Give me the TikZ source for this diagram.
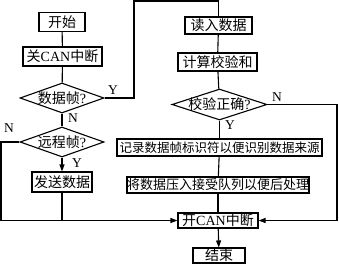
\documentclass[tikz,border=0pt]{standalone}
\usepackage{fontspec}
\setmainfont{Liberation Serif}
\newfontfamily\cjk{Noto Sans CJK SC}
\usetikzlibrary{shapes.geometric,arrows.meta}
\begin{document}
\begin{tikzpicture}[x=1pt,y=-1pt,
  line width=1.1pt,
  box/.style={draw,rectangle,inner sep=0pt,font=\fontsize{14}{14}\selectfont},
  dia/.style={draw,diamond,inner sep=0pt},
  lbl/.style={font=\fontsize{13.5}{13.5}\selectfont,inner sep=0pt},
  dtxt/.style={font=\fontsize{14}{14}\selectfont,inner sep=0pt},
  arr/.style={-{Triangle[length=7pt,width=5pt]}}]
\useasboundingbox (0,0) rectangle (339,270);
% left column
\node[box,minimum width=46pt,minimum height=19pt] (start) at (62,22) {\cjk 开始};
\node[box,minimum width=79pt,minimum height=19pt] (closeint) at (62.5,56.5) {{\cjk 关}CAN{\cjk 中断}};
\node[dia,minimum width=84pt,minimum height=30pt] (d1) at (62,98) {};
\node[dtxt] at (d1) {{\cjk 数据帧}?};
\node[dia,minimum width=84pt,minimum height=30pt] (d2) at (62,142) {};
\node[dtxt] at (d2) {{\cjk 远程帧}?};
\node[box,minimum width=60pt,minimum height=20pt] (send) at (62,182) {\cjk 发送数据};
% right column
\node[box,minimum width=67pt,minimum height=17pt] (read) at (218.5,25.5) {\cjk 读入数据};
\node[box,minimum width=79pt,minimum height=18pt] (calc) at (217.5,62) {\cjk 计算校验和};
\node[dia,minimum width=95pt,minimum height=31pt] (d3) at (219.5,104.5) {};
\node[dtxt] at (d3) {{\cjk 校验正确}?};
\node[box,minimum width=205pt,minimum height=17pt,font=\fontsize{12.5}{12.5}\selectfont] (rec) at (219.5,147.5) {\cjk 记录数据帧标识符以便识别数据来源};
\node[box,minimum width=180pt,minimum height=16pt,font=\fontsize{13}{13}\selectfont] (push) at (218,185) {\cjk 将数据压入接受队列以便后处理};
\node[box,minimum width=80pt,minimum height=15pt] (openint) at (218,220.5) {{\cjk 开}CAN{\cjk 中断}};
\node[box,minimum width=52pt,minimum height=15pt] (end) at (219,255.5) {\cjk 结束};
% coordinates
\coordinate (t1) at (134,98);
\coordinate (t2) at (134,1);
\coordinate (t3) at (218.5,1);
\coordinate (l1) at (1,142);
\coordinate (l2) at (1,220.5);
\coordinate (j1) at (62,220.5);
\coordinate (r1) at (337,104.5);
\coordinate (r2) at (337,220.5);
% connectors
\draw (start) -- (closeint);
\draw (closeint) -- (d1);
\draw (d1) -- (d2);
\draw[arr] (d2) -- (send);
\draw (send) -- (j1);
\draw (d1.east) -- (t1) -- (t2) -- (t3) -- (read.north);
\draw (read) -- (calc);
\draw (calc) -- (d3);
\draw (d3) -- (rec);
\draw (rec) -- (push);
\draw (push) -- (openint);
\draw[arr] (d2.west) -- (l1) -- (l2) -- (openint.west);
\draw[arr] (d3.east) -- (r1) -- (r2) -- (openint.east);
\draw[arr] (openint) -- (end);
% labels
\node[lbl] at (113,90) {Y};
\node[lbl] at (73,118) {N};
\node[lbl] at (9,128) {N};
\node[lbl] at (77,163) {Y};
\node[lbl] at (277,97) {N};
\node[lbl] at (230,125) {Y};
\end{tikzpicture}
\end{document}
